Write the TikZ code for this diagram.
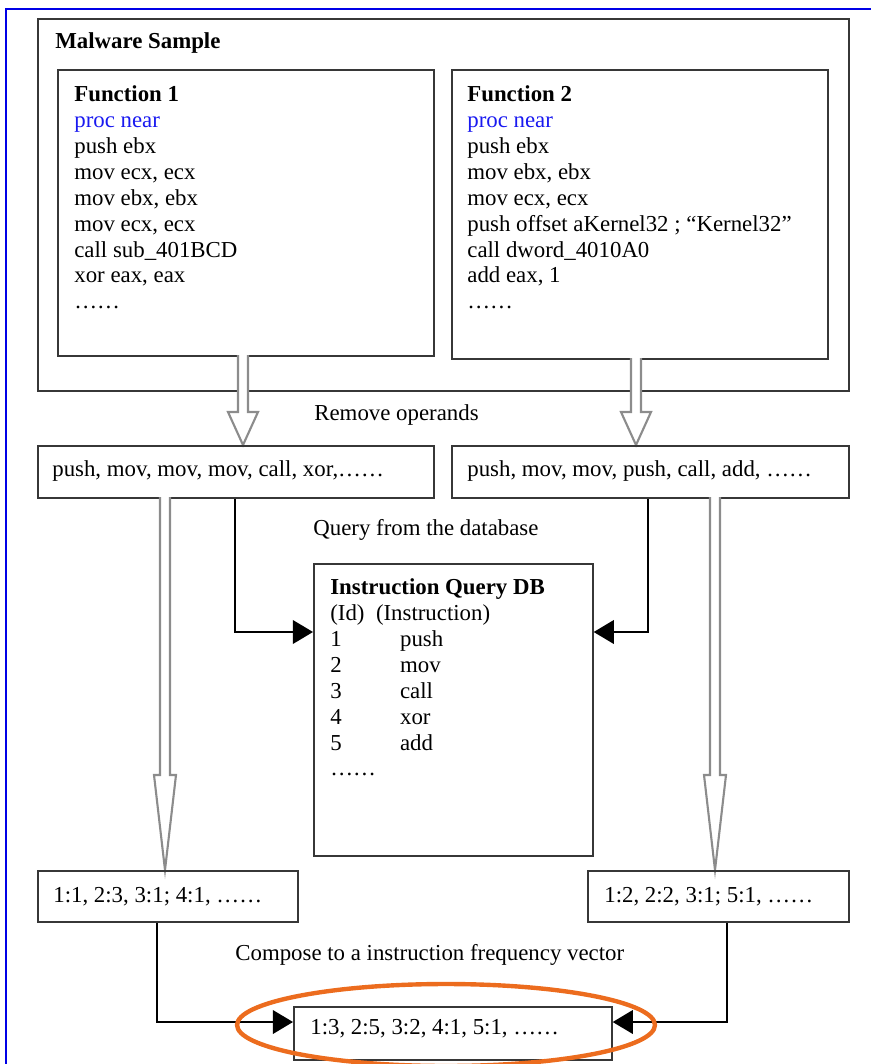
\documentclass[tikz,border=0pt]{standalone}
\usepackage{fontspec}
\setmainfont{Liberation Serif}
\usetikzlibrary{arrows.meta}
\definecolor{bordblue}{RGB}{0,0,230}
\definecolor{procblue}{RGB}{25,25,240}
\definecolor{ringorange}{RGB}{236,108,30}
\definecolor{boxgray}{RGB}{55,55,55}
\definecolor{shaftgray}{RGB}{140,140,140}

\newcommand{\hollowarrow}[5]{%
  \draw[hollow] (#1-5,#2) -- (#1-5,#3-#4) -- (#1-#5,#3-#4) -- (#1,#3)
    -- (#1+#5,#3-#4) -- (#1+5,#3-#4) -- (#1+5,#2);}
\newcommand{\idrow}[2]{\makebox[39.7pt][l]{#1}#2}

\begin{document}
\begin{tikzpicture}[x=0.02cm, y=-0.02cm,
  box/.style={draw=boxgray, line width=1pt, inner sep=0pt, anchor=north west},
  txt/.style={inner sep=0pt, anchor=base west, font=\fontsize{13}{14.74}\selectfont},
  block/.style={inner sep=0pt, anchor=north west, align=left, font=\fontsize{13}{14.74}\selectfont},
  hollow/.style={draw=shaftgray, line width=1.2pt, fill=white},
  conn/.style={draw=black, line width=0.9pt, -{Triangle[length=11.5pt,width=13.5pt]}}]
  \useasboundingbox (0,0) rectangle (871,1064);
  \draw[bordblue, line width=1.3pt] (6,1064) -- (6,9) -- (871,9);

  % malware sample with the two functions
  \node[box, minimum width=16.22cm, minimum height=7.44cm] (sample) at (37,18) {};
  \node[txt, font=\fontsize{13}{14.74}\selectfont\bfseries] (sampletitle) at (55,49) {Malware Sample};
  \node[box, minimum width=7.52cm, minimum height=5.72cm] (fone) at (57,69) {};
  \node[box, minimum width=7.52cm, minimum height=5.78cm] (ftwo) at (451,69) {};
  \node[block] (fonetext) at (74,85.5) {\textbf{Function 1}\\ \textcolor{procblue}{proc near}\\ push ebx\\
    mov ecx, ecx\\ mov ebx, ebx\\ mov ecx, ecx\\ call sub\_401BCD\\ xor eax, eax\\ ……};
  \node[block] (ftwotext) at (467,85.5) {\textbf{Function 2}\\ \textcolor{procblue}{proc near}\\ push ebx\\
    mov ebx, ebx\\ mov ecx, ecx\\ push offset aKernel32 ; “Kernel32”\\ call dword\_4010A0\\ add eax, 1\\ ……};

  % opcodes only
  \hollowarrow{243}{355}{445}{33}{15}
  \hollowarrow{636}{358}{445}{33}{15}
  \node[txt] (remove) at (314,420) {Remove operands};
  \node[box, minimum width=7.92cm, minimum height=1.04cm] (opsone) at (37,445) {};
  \node[box, minimum width=7.94cm, minimum height=1.04cm] (opstwo) at (451,445) {};
  \node[txt] (opsonetext) at (52,476) {push, mov, mov, mov, call, xor,……};
  \node[txt] (opstwotext) at (467,476) {push, mov, mov, push, call, add, ……};

  % lookup
  \node[txt] (query) at (313,535) {Query from the database};
  \node[box, minimum width=5.58cm, minimum height=5.84cm] (db) at (313,563) {};
  \node[block] (dbtext) at (330,578.5) {\textbf{Instruction Query DB}\\ (Id)\hspace{6.5pt}(Instruction)\\
    \idrow{1}{push}\\ \idrow{2}{mov}\\ \idrow{3}{call}\\ \idrow{4}{xor}\\ \idrow{5}{add}\\ ……};
  \draw[conn] (opsone.south -| 235,0) |- (db.west |- 0,632);
  \draw[conn] (opstwo.south -| 648,0) |- (db.east |- 0,632);

  % frequency vectors
  \hollowarrow{165}{497}{870}{95}{11}
  \hollowarrow{715}{497}{870}{95}{11}
  \node[box, minimum width=5.2cm, minimum height=1.02cm] (vecone) at (37,870) {};
  \node[box, minimum width=5.22cm, minimum height=1.02cm] (vectwo) at (587,870) {};
  \node[txt] (veconetext) at (53,902) {1:1, 2:3, 3:1; 4:1, ……};
  \node[txt] (vectwotext) at (604,902) {1:2, 2:2, 3:1; 5:1, ……};
  \node[txt] (compose) at (235,960) {Compose to a instruction frequency vector};
  \node[box, minimum width=6.36cm, minimum height=1.06cm] (result) at (293,1006) {};
  \node[txt] (resulttext) at (310,1034) {1:3, 2:5, 3:2, 4:1, 5:1, ……};
  \draw[conn] (vecone.south -| 157,0) |- (result.west |- 0,1022);
  \draw[conn] (vectwo.south -| 727,0) |- (result.east |- 0,1022);
  \draw[ringorange, line width=2.5pt] (446,1025) ellipse [x radius=4.18cm, y radius=0.82cm];
\end{tikzpicture}
\end{document}
